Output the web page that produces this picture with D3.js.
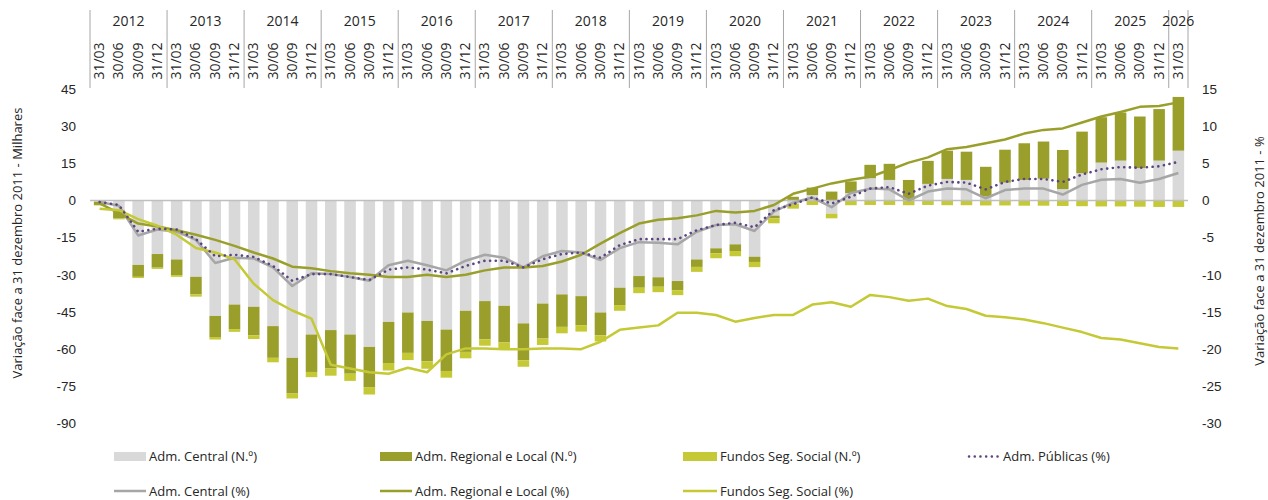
<!DOCTYPE html>
<html>
<head>
<meta charset="utf-8">
<script src="https://cdn.jsdelivr.net/npm/d3@7"></script>
<style>
  html, body { margin: 0; padding: 0; background: #fff; }
  svg { display: block; font-family: "Open Sans", Carlito, Calibri, sans-serif; }
</style>
</head>
<body>
<svg id="chart" width="1268" height="500"></svg>
<script>
// ---------- DATA ----------
const years = ["2012","2013","2014","2015","2016","2017","2018","2019","2020","2021","2022","2023","2024","2025","2026"];
const quarterLabels = ["31/03","30/06","30/09","31/12"];
// categories: year|quarter (2012Q1 .. 2026Q1)
const categories = [];
years.forEach(y => quarterLabels.forEach(q => { if (!(y === "2026" && q !== "31/03")) categories.push(y + "|" + q); }));

// Bars (thousands)
const admCentralN = [
  -0.5, -3.8, -26.0, -21.6, -23.8, -30.8, -46.6, -42.0, -42.9, -50.7, -63.5, -54.1, -52.3,
  -54.1, -59.1, -49.0, -45.2, -48.6, -52.1, -44.5, -40.6, -42.5, -49.6, -41.6, -37.9, -38.6,
  -45.2, -35.2, -30.5, -31.0, -32.5, -23.8, -19.3, -17.7, -22.7, -6.1, -1.3, 2.2, -5.3,
  3.0, 9.0, 8.3, 0.3, 6.7, 8.7, 8.3, 1.6, 7.2, 8.3, 8.8, 4.6, 11.0, 15.3, 16.1, 13.1, 16.1, 20.1
];
const admRegionalN = [
  -1.3, -3.5, -4.8, -5.5, -6.3, -7.1, -8.5, -9.9, -11.5, -12.8, -14.4, -15.1, -15.5,
  -15.8, -16.2, -16.6, -16.3, -16.3, -16.7, -16.6, -15.4, -14.8, -14.9, -14.1, -13.1, -11.7,
  -9.2, -7.0, -4.7, -3.8, -3.7, -3.0, -2.0, -2.7, -2.1, -1.1, 1.5, 3.0, 3.6,
  4.7, 5.4, 6.5, 8.0, 9.3, 11.4, 11.4, 12.0, 13.3, 14.8, 15.0, 15.8, 16.8, 18.3, 19.4, 20.8, 20.8, 21.7
];
const fundosN = [
  -0.2, -0.3, -0.5, -0.5, -0.7, -0.9, -1.0, -1.1, -1.5, -1.8, -2.0, -2.1, -2.9,
  -2.9, -3.0, -3.0, -2.9, -3.0, -2.7, -2.6, -2.6, -2.6, -2.6, -2.6, -2.6, -2.6,
  -2.5, -2.3, -2.2, -2.2, -2.0, -2.0, -2.0, -2.1, -2.1, -2.0, -2.0, -1.8, -1.9,
  -1.9, -1.8, -1.8, -1.9, -1.8, -1.9, -1.9, -2.0, -2.0, -2.1, -2.1, -2.2, -2.3, -2.4, -2.4, -2.5, -2.6, -2.6
];

// Lines (%)
const admPublicasPct = [
  -0.2, -0.6, -4.2, -3.8, -3.9, -5.2, -7.5, -7.3, -7.6, -8.8, -10.8, -9.9, -9.9,
  -10.3, -10.7, -9.3, -9.0, -9.3, -9.8, -8.8, -8.1, -8.1, -9.0, -7.9, -7.2, -7.0,
  -7.7, -6.0, -5.2, -5.2, -5.2, -4.0, -3.3, -3.0, -3.6, -1.3, -0.5, 0.4, -0.4,
  0.5, 1.6, 1.8, 0.9, 2.0, 2.5, 2.4, 1.5, 2.5, 2.9, 2.9, 2.5, 3.5, 4.2, 4.5, 4.4, 4.6, 5.2
];
const admCentralPct = [
  -0.2, -0.7, -4.7, -3.9, -4.2, -5.3, -8.4, -7.7, -7.8, -9.0, -11.5, -9.8, -9.9,
  -10.3, -10.8, -8.7, -8.1, -8.7, -9.4, -8.1, -7.3, -7.7, -9.0, -7.5, -6.8, -7.0,
  -8.0, -6.4, -5.6, -5.7, -5.9, -4.2, -3.3, -3.2, -4.1, -1.5, -0.3, 0.4, -0.9,
  1.0, 1.6, 1.5, 0.0, 1.2, 1.6, 1.5, 0.3, 1.4, 1.6, 1.6, 0.8, 2.1, 2.8, 2.9, 2.4, 2.9, 3.7
];
const admRegionalPct = [
  -0.4, -1.7, -3.1, -3.5, -4.0, -4.6, -5.3, -6.1, -7.0, -7.8, -8.9, -9.1, -9.5,
  -9.8, -10.0, -10.3, -10.3, -10.0, -10.3, -10.0, -9.4, -9.0, -9.0, -8.8, -8.2, -7.3,
  -5.8, -4.4, -3.1, -2.6, -2.4, -2.0, -1.4, -1.6, -1.4, -0.6, 0.9, 1.6, 2.3,
  2.8, 3.2, 4.1, 5.1, 5.8, 6.9, 7.2, 7.7, 8.2, 9.0, 9.5, 9.7, 10.5, 11.3, 11.9, 12.6, 12.7, 13.2
];
const fundosPct = [
  -1.1, -1.3, -2.5, -3.4, -4.6, -6.4, -7.0, -7.9, -11.2, -13.4, -14.8, -15.9, -22.1,
  -22.6, -23.1, -23.3, -22.5, -23.1, -20.7, -19.9, -19.9, -20.0, -20.0, -19.9, -19.9, -20.0,
  -19.0, -17.4, -17.1, -16.8, -15.1, -15.1, -15.4, -16.3, -15.8, -15.4, -15.4, -14.0, -13.7,
  -14.3, -12.7, -13.0, -13.5, -13.2, -14.2, -14.6, -15.5, -15.7, -16.0, -16.5, -17.1, -17.7, -18.5, -18.7, -19.2, -19.7, -19.9
];

const leftTicks = [45, 30, 15, 0, -15, -30, -45, -60, -75, -90];
const rightTicks = [15, 10, 5, 0, -5, -10, -15, -20, -25, -30];

const barSeries = [
  { name: "Adm. Central (N.º)", values: admCentralN, color: "#d9d9d9" },
  { name: "Adm. Regional e Local (N.º)", values: admRegionalN, color: "#9a9f2b" },
  { name: "Fundos Seg. Social (N.º)", values: fundosN, color: "#c4c935" }
];
const lineSeries = [
  { name: "Adm. Central (%)", values: admCentralPct, color: "#a6a6a6", dash: null },
  { name: "Adm. Regional e Local (%)", values: admRegionalPct, color: "#9a9f2b", dash: null },
  { name: "Fundos Seg. Social (%)", values: fundosPct, color: "#c4c935", dash: null },
  { name: "Adm. Públicas (%)", values: admPublicasPct, color: "#5c4580", dash: "0.1 5.6" }
];

// ---------- LAYOUT ----------
const svg = d3.select("#chart");
const x = d3.scaleBand().domain(categories).range([90, 1188]).paddingInner(0.4).paddingOuter(0.2);
const yL = d3.scaleLinear().domain([-90, 45]).range([423.5, 89]);
const yR = d3.scaleLinear().domain([-30, 15]).range([423.5, 89]);
const textColor = "#262626";

// ---------- BARS (stacked, pos / neg separately) ----------
const n = categories.length;
const posBase = new Array(n).fill(0), negBase = new Array(n).fill(0);
barSeries.forEach(s => {
  const g = svg.append("g");
  s.values.forEach((v, i) => {
    let y0, y1;
    if (v >= 0) { y0 = posBase[i]; y1 = y0 + v; posBase[i] = y1; }
    else { y0 = negBase[i]; y1 = y0 + v; negBase[i] = y1; }
    g.append("rect")
      .attr("x", x(categories[i]))
      .attr("width", x.bandwidth())
      .attr("y", yL(Math.max(y0, y1)))
      .attr("height", Math.abs(yL(y0) - yL(y1)))
      .attr("fill", s.color);
  });
});

// zero line
svg.append("line")
  .attr("x1", 90).attr("x2", 1188)
  .attr("y1", yL(0)).attr("y2", yL(0))
  .attr("stroke", "#bfbfbf").attr("stroke-width", 1.5);

// ---------- LINES ----------
const cx = i => x(categories[i]) + x.bandwidth() / 2;
lineSeries.forEach(s => {
  const line = d3.line().x((d, i) => cx(i)).y(d => yR(d));
  svg.append("path")
    .datum(s.values)
    .attr("d", line)
    .attr("fill", "none")
    .attr("stroke", s.color)
    .attr("stroke-width", s.dash ? 2.6 : 2.5)
    .attr("stroke-linejoin", "round")
    .attr("stroke-linecap", s.dash ? "round" : "butt")
    .attr("stroke-dasharray", s.dash);
});

// ---------- AXES ----------
const fmt = d => String(d);
const leftAxis = d3.axisLeft(yL).tickValues(leftTicks).tickFormat(fmt).tickSize(0).tickPadding(0);
const gl = svg.append("g").attr("transform", "translate(76,0)").call(leftAxis);
gl.select(".domain").remove();
gl.selectAll("text").attr("font-size", 13.5).attr("fill", textColor).attr("font-family", null);

const rightAxis = d3.axisRight(yR).tickValues(rightTicks).tickFormat(fmt).tickSize(0).tickPadding(0);
const gr = svg.append("g").attr("transform", "translate(1202,0)").call(rightAxis);
gr.select(".domain").remove();
gr.selectAll("text").attr("font-size", 13.5).attr("fill", textColor).attr("font-family", null);

// axis titles
svg.append("text")
  .attr("transform", "translate(22,243) rotate(-90)")
  .attr("text-anchor", "middle").attr("font-size", 13).attr("fill", textColor)
  .text("Variação  face a 31 dezembro 2011 - Milhares");
svg.append("text")
  .attr("transform", "translate(1264,251) rotate(-90)")
  .attr("text-anchor", "middle").attr("font-size", 13).attr("fill", textColor)
  .text("Variação face a 31 dezembro 2011 - %");

// ---------- HEADER (multi-level category axis) ----------
const step = x.step();
const hdr = svg.append("g");
const yearStarts = years.map((y, k) => 90 + k * 4 * step);
yearStarts.concat([1188]).forEach(xv => {
  hdr.append("line").attr("x1", xv).attr("x2", xv).attr("y1", 10).attr("y2", 88)
    .attr("stroke", "#a6a6a6").attr("stroke-width", 1);
});
years.forEach((y, k) => {
  const cats = categories.filter(c => c.startsWith(y + "|"));
  const x0 = x(cats[0]) - x.step() * x.paddingInner() / 2;
  const x1 = x(cats[cats.length - 1]) + x.bandwidth() + x.step() * x.paddingInner() / 2;
  hdr.append("text")
    .attr("x", (x0 + x1) / 2).attr("y", 26)
    .attr("text-anchor", "middle").attr("font-size", 14).attr("fill", textColor)
    .text(y);
});
categories.forEach((c, i) => {
  const q = c.split("|")[1];
  hdr.append("text")
    .attr("transform", `translate(${cx(i) + 4.5},61) rotate(-90)`)
    .attr("text-anchor", "middle").attr("font-size", 14).attr("fill", textColor)
    .text(q);
});

// ---------- LEGEND ----------
const legendItems = [
  { label: "Adm. Central (N.º)", type: "rect", color: "#d9d9d9", x: 114, row: 0 },
  { label: "Adm. Regional e Local (N.º)", type: "rect", color: "#9a9f2b", x: 380, row: 0 },
  { label: "Fundos Seg. Social (N.º)", type: "rect", color: "#c4c935", x: 683, row: 0 },
  { label: "Adm. Públicas (%)", type: "dot", color: "#5c4580", x: 968, row: 0 },
  { label: "Adm. Central (%)", type: "line", color: "#a6a6a6", x: 114, row: 1 },
  { label: "Adm. Regional e Local (%)", type: "line", color: "#9a9f2b", x: 380, row: 1 },
  { label: "Fundos Seg. Social (%)", type: "line", color: "#c4c935", x: 683, row: 1 }
];
const rowY = [456.5, 491];
legendItems.forEach(it => {
  const g = svg.append("g");
  const yc = rowY[it.row];
  const w = it.x === 683 ? 34 : 32;
  if (it.type === "rect") {
    g.append("rect").attr("x", it.x).attr("y", yc - 4.5).attr("width", w).attr("height", 9).attr("fill", it.color);
  } else {
    g.append("line").attr("x1", it.x + (it.type === "dot" ? 1 : 0)).attr("x2", it.x + w)
      .attr("y1", yc).attr("y2", yc)
      .attr("stroke", it.color).attr("stroke-width", 2.5)
      .attr("stroke-linecap", it.type === "dot" ? "round" : "butt")
      .attr("stroke-dasharray", it.type === "dot" ? "0.1 5.6" : null);
  }
  g.append("text").attr("x", it.x + w + 3).attr("y", yc).attr("dy", "0.35em")
    .attr("font-size", 13).attr("fill", textColor).text(it.label);
});
</script>
</body>
</html>
